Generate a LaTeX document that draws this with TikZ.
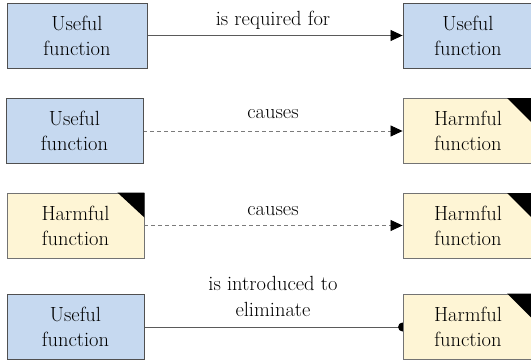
\documentclass[tikz,border=0pt]{standalone}
\usetikzlibrary{arrows.meta,backgrounds}
\definecolor{usefulfill}{HTML}{C6D9F0}
\definecolor{harmfill}{HTML}{FEF5D5}
\definecolor{edgegray}{HTML}{505050}
\definecolor{linegray}{HTML}{5A5A5A}
\tikzset{
  fbox/.style={draw=edgegray, line width=0.9pt, minimum height=65pt, align=center,
    inner sep=0pt, font=\fontsize{20.5}{25}\selectfont},
  usefulbox/.style={fbox, fill=usefulfill},
  harmbox/.style={fbox, fill=harmfill, draw=edgegray!80},
  lbl/.style={font=\fontsize{20.5}{25}\selectfont, align=center, inner sep=0pt},
  solidlink/.style={draw=linegray, line width=0.8pt},
  dashlink/.style={draw=linegray!80, line width=0.8pt, dash pattern=on 4pt off 3pt},
  tri/.style={-{Triangle[length=12pt,width=11pt,black]}},
}
\begin{document}
\begin{tikzpicture}[x=1pt,y=-1pt]
\useasboundingbox (0,0) rectangle (531,364);
% row 1
\node[usefulbox, minimum width=140pt] (u1) at (77,35.5) {Useful\\function};
\node[usefulbox, minimum width=130pt] (u2) at (468,35.5) {Useful\\function};
% row 2
\node[usefulbox, minimum width=137pt] (u3) at (74.5,131) {Useful\\function};
\node[harmbox, minimum width=130pt] (h1) at (468,131) {Harmful\\function};
% row 3
\node[harmbox, minimum width=137pt] (h2) at (75.5,225.5) {Harmful\\function};
\node[harmbox, minimum width=130pt] (h3) at (468,225.5) {Harmful\\function};
% row 4
\node[usefulbox, minimum width=137pt] (u4) at (75.5,327) {Useful\\function};
\node[harmbox, minimum width=130pt] (h4) at (468,327) {Harmful\\function};
% corner triangles
\fill (531,98) -- ++(-24,0) -- ++(24,24) -- cycle;
\fill (h2.north east) -- ++(-27,0) -- ++(27,25) -- cycle;
\fill (531,193) -- ++(-24,0) -- ++(24,24) -- cycle;
\fill (531,293.5) -- ++(-24,0) -- ++(24,24) -- cycle;
% connectors
\begin{scope}[on background layer]
\draw[solidlink, tri] (u1.east) -- (u2.west);
\draw[dashlink, tri] (u3.east) -- (h1.west);
\draw[dashlink, tri] (h2.east) -- (h3.west);
\draw[solidlink] (u4.east) -- (h4.west);
\fill (h4.west) circle (4.5pt);
\end{scope}
% labels
\node[lbl, anchor=base] (l1) at (273,25) {is required for};
\node[lbl, anchor=base] (l2) at (273,118) {causes};
\node[lbl, anchor=base] (l3) at (273,215) {causes};
\node[lbl, anchor=base] (l4) at (273,290) {is introduced to};
\node[lbl, anchor=base] (l5) at (273,316) {eliminate};
\end{tikzpicture}
\end{document}
